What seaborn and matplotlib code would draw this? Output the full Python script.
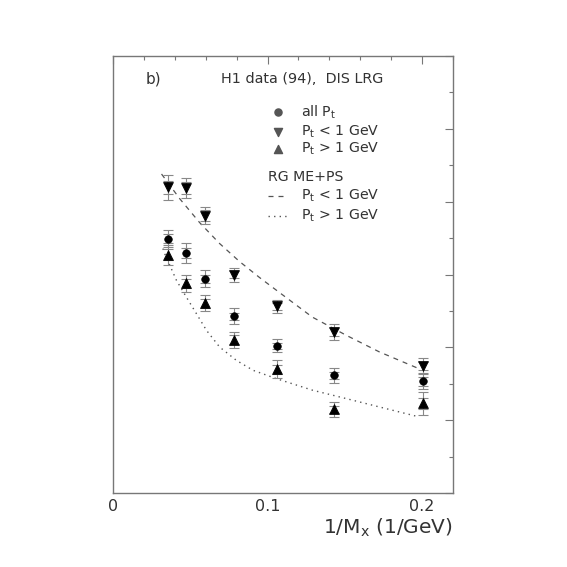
# H1 LRG 비교 그림 (b)
import numpy as np
import pandas as pd
import matplotlib
matplotlib.use('Agg')
import matplotlib.pyplot as plt
from matplotlib.ticker import MultipleLocator
import seaborn as sns

# 데이터
inv_mx = [0.0353, 0.0475, 0.0598, 0.0783, 0.1063, 0.1432, 0.2006]

all_pt = [0.349, 0.329, 0.294, 0.2425, 0.202, 0.1616, 0.1534]
all_pt_err = [0.0116, 0.0137, 0.0116, 0.011, 0.0089, 0.0103, 0.011]
all_pt_stat = [0.006, 0.007, 0.006, 0.005, 0.004, 0.005, 0.006]

pt_lo = [0.4196, 0.4188, 0.381, 0.2996, 0.2562, 0.221, 0.1744]
pt_lo_err = [0.017, 0.0144, 0.0123, 0.0096, 0.0089, 0.011, 0.011]
pt_lo_stat = [0.009, 0.008, 0.007, 0.005, 0.005, 0.006, 0.006]

pt_hi = [0.3274, 0.2877, 0.2603, 0.2105, 0.1699, 0.1147, 0.1229]
pt_hi_err = [0.0137, 0.0116, 0.011, 0.011, 0.0123, 0.0103, 0.0158]
pt_hi_stat = [0.007, 0.006, 0.006, 0.006, 0.006, 0.005, 0.008]

# RG ME+PS 곡선
mc_lo_x = [0.0314, 0.0432, 0.0561, 0.0690, 0.0819, 0.0948, 0.1077, 0.1290,
           0.1508, 0.1723, 0.1981]
mc_lo_y = [0.438, 0.404, 0.3712, 0.3425, 0.3178, 0.2959, 0.2753, 0.2415,
           0.2167, 0.1938, 0.1706]
mc_hi_x = [0.0323, 0.0335, 0.0411, 0.0475, 0.0540, 0.0605, 0.0690, 0.0798,
           0.0906, 0.1056, 0.1292, 0.1508, 0.1723, 0.1981]
mc_hi_y = [0.3356, 0.3284, 0.2918, 0.2689, 0.2462, 0.2233, 0.2004, 0.1822,
           0.1685, 0.1571, 0.1411, 0.1297, 0.1182, 0.1045]

sns.set_style('white')
plt.rcParams['font.family'] = ['DejaVu Sans']
txt = '#333333'
axc = '#777777'

fig = plt.figure(figsize=(5.67, 5.67), dpi=100)
ax = fig.add_axes([0.1993, 0.1305, 0.5996, 0.7707])

# 곡선
sns.lineplot(x=mc_lo_x, y=mc_lo_y, ax=ax, color='#555555', lw=0.9,
             linestyle=(0, (4, 4)), sort=False)
sns.lineplot(x=mc_hi_x, y=mc_hi_y, ax=ax, color='#555555', lw=1.0,
             linestyle=(0, (1, 3)), sort=False)

# 오차 막대
for y, e, s in [(all_pt, all_pt_err, all_pt_stat),
                (pt_lo, pt_lo_err, pt_lo_stat),
                (pt_hi, pt_hi_err, pt_hi_stat)]:
    ax.errorbar(inv_mx, y, yerr=e, fmt='none', ecolor='#888888',
                elinewidth=0.8, capsize=3.4, capthick=0.8, zorder=2)
    ax.errorbar(inv_mx, y, yerr=s, fmt='none', ecolor='#888888',
                elinewidth=0.8, capsize=3.4, capthick=0.8, zorder=2)

# 데이터 점
sns.scatterplot(x=inv_mx, y=all_pt, ax=ax, marker='o', s=30, color='black',
                edgecolor='black', zorder=3)
sns.scatterplot(x=inv_mx, y=pt_lo, ax=ax, marker='v', s=50, color='black',
                edgecolor='black', zorder=3)
sns.scatterplot(x=inv_mx, y=pt_hi, ax=ax, marker='^', s=50, color='black',
                edgecolor='black', zorder=3)

ax.set_xlim(0, 0.22)
ax.set_ylim(0, 0.6)
ax.xaxis.set_major_locator(MultipleLocator(0.1))
ax.xaxis.set_minor_locator(MultipleLocator(0.02))
ax.yaxis.set_major_locator(MultipleLocator(0.1))
ax.yaxis.set_minor_locator(MultipleLocator(0.05))
ax.tick_params(which='both', direction='in', top=True, right=True,
               color=axc, width=0.8, labelleft=False, labelsize=11.5,
               labelcolor=txt, pad=4)
ax.tick_params(which='major', length=6)
ax.tick_params(which='minor', length=3)
ax.set_xticks([0, 0.1, 0.2])
ax.set_xticklabels(['0', '0.1', '0.2'])
for sp in ax.spines.values():
    sp.set_color(axc)
    sp.set_linewidth(1.0)

ax.set_xlabel(r'1/M$_\mathregular{x}$ (1/GeV)', fontsize=14.5, color=txt,
              loc='right', labelpad=2)

# 텍스트
ax.text(0.095, 0.947, 'b)', transform=ax.transAxes, fontsize=11, color=txt,
        va='center')
ax.text(0.317, 0.947, 'H1 data (94),  DIS LRG', transform=ax.transAxes,
        fontsize=10.4, color=txt, va='center')

leg_mx = (278 - 113) / 1550
leg_tx = (302 - 113) / 1550
def ypix(p):
    return (493 - p) / 730

ax.scatter([leg_mx], [ypix(111)], marker='o', s=26, color='#555555')
ax.scatter([leg_mx], [ypix(131)], marker='v', s=34, color='#555555')
ax.scatter([leg_mx], [ypix(148)], marker='^', s=34, color='#555555')
fs = 10.2
ax.text(leg_tx, ypix(111), r'all P$_\mathregular{t}$', fontsize=fs, color=txt, va='center')
ax.text(leg_tx, ypix(131), r'P$_\mathregular{t}$ < 1 GeV', fontsize=fs, color=txt, va='center')
ax.text(leg_tx, ypix(148), r'P$_\mathregular{t}$ > 1 GeV', fontsize=fs, color=txt, va='center')
ax.text((268 - 113) / 1550, ypix(176), 'RG ME+PS', fontsize=fs, color=txt, va='center')
ax.plot([(268 - 113) / 1550, (288 - 113) / 1550], [ypix(195)] * 2, color='#555555',
        lw=0.9, linestyle=(0, (4, 4)))
ax.plot([(268 - 113) / 1550, (290 - 113) / 1550], [ypix(215)] * 2, color='#555555',
        lw=1.0, linestyle=(0, (1, 3)))
ax.text(leg_tx, ypix(195), r'P$_\mathregular{t}$ < 1 GeV', fontsize=fs, color=txt, va='center')
ax.text(leg_tx, ypix(215), r'P$_\mathregular{t}$ > 1 GeV', fontsize=fs, color=txt, va='center')

fig.savefig('out.png', dpi=100)
